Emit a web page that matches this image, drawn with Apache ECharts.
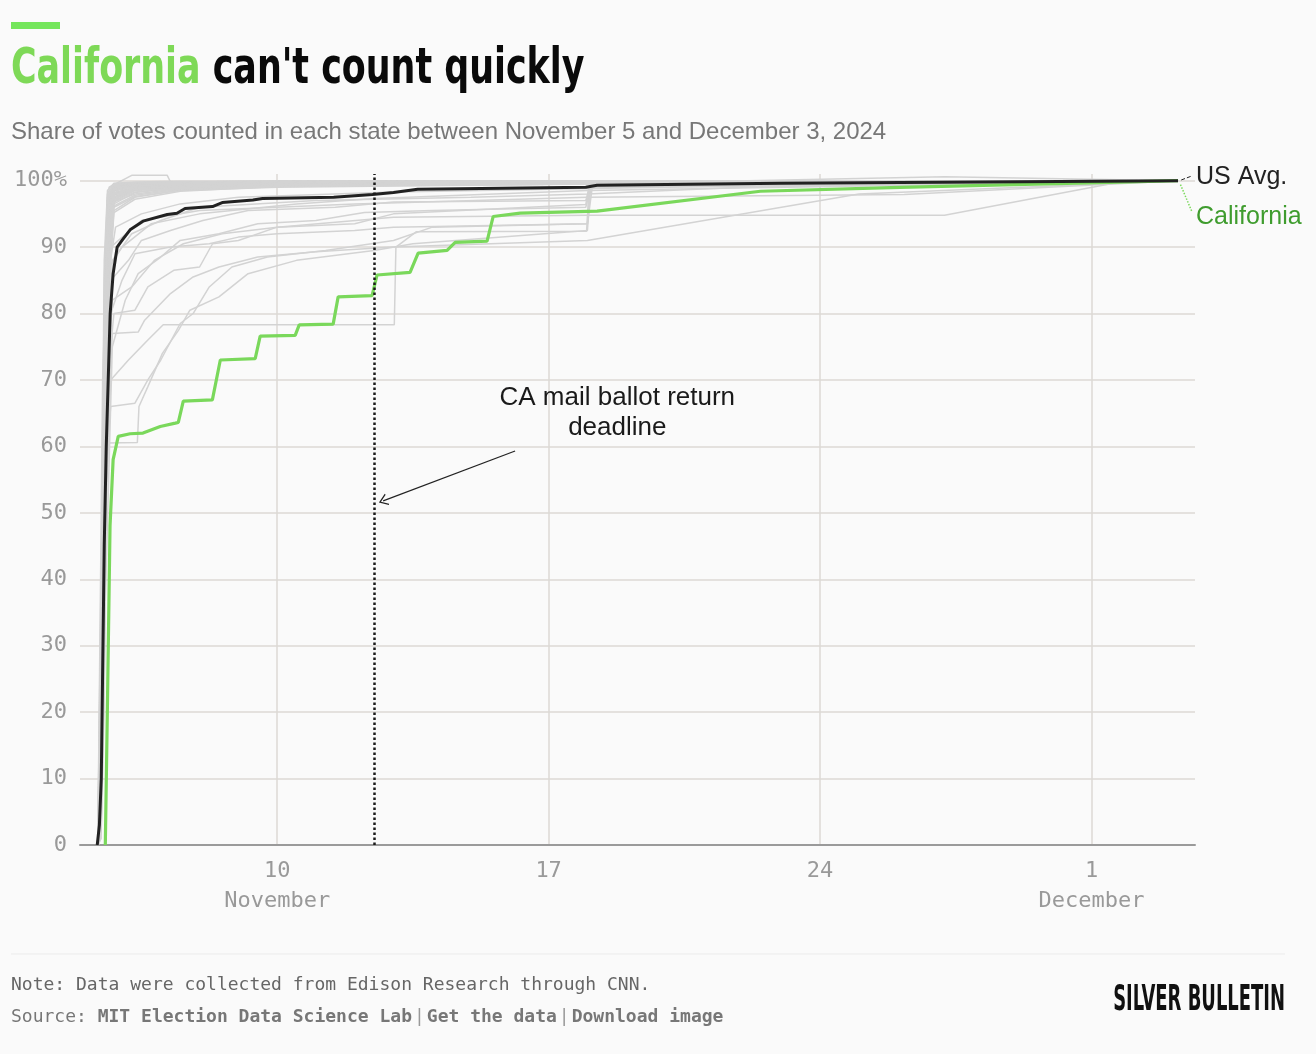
<!DOCTYPE html>
<html>
<head>
<meta charset="utf-8">
<title>California can't count quickly</title>
<script src="https://cdn.jsdelivr.net/npm/echarts@6.0.0/dist/echarts.min.js"></script>
<style>
  html, body { margin: 0; padding: 0; background: #fafafa; }
  #chart { width: 1316px; height: 1054px; }
</style>
</head>
<body>
<div id="chart"></div>
<script>
var YEAR = '2024-';

// axis ticks
var xTicks = ['11-10 00:00', '11-17 00:00', '11-24 00:00', '12-01 00:00'];
var xTickDays = ['10', '17', '24', '1'];
var xTickMonths = ['November', '', '', 'December'];
var yTicks = [0, 10, 20, 30, 40, 50, 60, 70, 80, 90, 100];

var deadline = '11-12 12:00';

// US average share counted
var usAvg = [
  ['11-05 08:40', 0], ['11-05 10:00', 3], ['11-05 11:10', 10], ['11-05 13:00', 45],
  ['11-05 14:15', 60], ['11-05 16:40', 80], ['11-05 18:30', 86], ['11-05 21:00', 90],
  ['11-06 00:00', 91], ['11-06 05:00', 92.6], ['11-06 13:00', 93.9], ['11-07 04:00', 94.9],
  ['11-07 10:00', 95.1], ['11-07 15:00', 95.8], ['11-08 08:00', 96.1], ['11-08 14:00', 96.7],
  ['11-09 09:00', 97.1], ['11-09 15:00', 97.3], ['11-11 11:00', 97.5], ['11-12 11:00', 97.9],
  ['11-13 00:00', 98.2], ['11-13 15:00', 98.7], ['11-17 23:00', 99.0], ['11-18 06:00', 99.3],
  ['11-23 00:00', 99.6], ['12-03 05:30', 100]
];

// California share counted
var california = [
  ['11-05 13:40', 0], ['11-05 14:55', 20], ['11-05 16:35', 48], ['11-05 18:30', 58],
  ['11-05 21:40', 61.5], ['11-06 05:00', 61.9], ['11-06 13:00', 62.0], ['11-06 23:40', 63.0],
  ['11-07 09:00', 63.5], ['11-07 10:50', 63.6], ['11-07 13:55', 66.8], ['11-08 07:55', 67.0],
  ['11-08 12:50', 73.0], ['11-09 10:25', 73.2], ['11-09 13:30', 76.6], ['11-10 11:10', 76.7],
  ['11-10 13:40', 78.3], ['11-11 10:40', 78.4], ['11-11 13:45', 82.5], ['11-12 10:45', 82.7],
  ['11-12 13:50', 85.8], ['11-13 10:15', 86.2], ['11-13 15:15', 89.1], ['11-14 09:10', 89.5],
  ['11-14 14:10', 90.7], ['11-15 09:55', 90.9], ['11-15 13:40', 94.6], ['11-16 06:25', 95.1],
  ['11-18 06:00', 95.4], ['11-22 11:00', 98.4], ['11-26 01:30', 99.0], ['12-01 23:00', 99.8],
  ['12-03 05:30', 100]
];

// states that counted fast: shared timestamps, one value list per state
var quickTimes = ['11-05 09:00', '11-05 11:00', '11-05 13:00', '11-05 15:00', '11-05 19:00',
  '11-06 08:00', '11-07 12:00', '11-10 00:00', '11-18 00:00', '12-03 05:30'];
var quickStates = [
  [0, 10, 60, 93, 98.5, 99.3, 99.6, 99.8, 99.9, 100],
  [0, 5, 45, 90, 97.8, 98.8, 99.3, 99.6, 99.8, 100],
  [0, 20, 75, 96, 99, 99.5, 99.7, 99.8, 99.9, 100],
  [0, 2, 30, 85, 96.5, 98.2, 98.9, 99.3, 99.6, 100],
  [0, 12, 68, 95, 98.8, 99.4, 99.6, 99.7, 99.9, 100],
  [0, 8, 52, 91, 98, 99, 99.4, 99.7, 99.8, 100],
  [0, 25, 80, 97, 99.3, 99.6, 99.8, 99.9, 100, 100],
  [0, 3, 38, 88, 97, 98.5, 99.1, 99.5, 99.7, 100],
  [0, 15, 70, 95.5, 98.6, 99.2, 99.5, 99.7, 99.8, 100],
  [0, 6, 48, 89, 96.8, 98, 98.8, 99.2, 99.6, 100],
  [0, 18, 72, 96.5, 99.1, 99.6, 99.8, 99.9, 99.9, 100],
  [0, 1, 25, 82, 95.5, 97.5, 98.6, 99.2, 99.5, 100],
  [0, 30, 85, 98, 99.5, 99.7, 99.8, 99.9, 100, 100],
  [0, 9, 55, 92, 98.2, 99, 99.3, 99.5, 99.8, 100],
  [0, 4, 40, 87, 97.2, 98.6, 99.2, 99.5, 99.7, 100],
  [0, 14, 66, 94, 98.4, 99.2, 99.5, 99.7, 99.9, 100],
  [0, 7, 50, 90, 97.6, 98.7, 99.2, 99.6, 99.8, 100],
  [0, 22, 78, 97, 99.2, 99.6, 99.7, 99.8, 99.9, 100],
  [0, 2, 33, 86, 96.2, 97.8, 98.7, 99.3, 99.6, 100],
  [0, 11, 62, 93.5, 98.6, 99.3, 99.6, 99.8, 99.9, 100],
  [0, 16, 73, 95, 98.9, 99.5, 99.7, 99.8, 99.9, 100],
  [0, 5, 42, 89, 97.4, 98.6, 99.1, 99.4, 99.7, 100],
  [0, 28, 82, 97.5, 99.4, 99.7, 99.8, 99.9, 100, 100],
  [0, 3, 36, 84, 96, 97.6, 98.5, 99, 99.5, 100],
  [0, 13, 64, 94.5, 98.7, 99.4, 99.6, 99.8, 99.9, 100],
  [0, 10, 58, 92.5, 98.1, 99, 99.4, 99.6, 99.8, 100],
  [0, 20, 76, 96, 99, 99.5, 99.7, 99.8, 99.9, 100],
  [0, 1, 22, 80, 95.2, 97.2, 98.4, 99.1, 99.5, 100],
  [0, 8, 54, 91.5, 97.9, 98.9, 99.3, 99.6, 99.8, 100],
  [0, 35, 88, 98.5, 99.6, 99.8, 99.9, 99.9, 100, 100],
  [0, 6, 46, 90, 97.5, 98.7, 99.2, 99.5, 99.7, 100],
  [0, 17, 71, 95.8, 98.8, 99.4, 99.6, 99.8, 99.9, 100],
  [0, 4, 39, 87.5, 96.9, 98.3, 99, 99.4, 99.7, 100],
  [0, 12, 65, 93.8, 98.5, 99.2, 99.5, 99.7, 99.9, 100]
];

// states that took longer
var slowStates = [
  [['11-05 09:30', 0], ['11-05 12:00', 40], ['11-05 15:00', 60.5], ['11-06 09:30', 60.6], ['11-06 10:30', 66],
   ['11-06 16:00', 69], ['11-07 01:00', 74], ['11-07 11:00', 77.5], ['11-07 18:00', 80.5], ['11-08 12:00', 82.5],
   ['11-09 06:00', 86], ['11-10 12:00', 88], ['11-12 12:00', 89.5], ['11-13 12:00', 90.5], ['11-18 00:00', 92.5],
   ['11-18 02:00', 99], ['12-03 05:30', 100]],
  [['11-05 09:00', 0], ['11-05 13:00', 55], ['11-05 17:00', 66], ['11-06 08:00', 66.5], ['11-06 16:00', 70],
   ['11-07 00:00', 73], ['11-07 12:00', 78.5], ['11-07 20:00', 80], ['11-08 06:00', 84], ['11-08 20:00', 87],
   ['11-09 18:00', 88.5], ['11-11 06:00', 89.5], ['11-13 00:00', 91], ['11-14 00:00', 93], ['11-18 00:00', 93.5],
   ['11-18 02:00', 99.3], ['12-03 05:30', 100]],
  [['11-05 09:30', 0], ['11-05 14:00', 50], ['11-05 17:00', 70], ['11-06 04:00', 73], ['11-06 16:00', 76],
   ['11-07 01:30', 78.3], ['11-13 00:30', 78.3], ['11-13 01:30', 90], ['11-13 14:00', 92.3], ['11-17 23:30', 92.4],
   ['11-18 01:00', 99], ['12-03 05:30', 100]],
  [['11-05 09:00', 0], ['11-05 13:00', 52], ['11-05 18:00', 77], ['11-06 10:00', 77.2], ['11-06 14:00', 79],
   ['11-07 06:00', 83], ['11-07 20:00', 85.5], ['11-08 12:00', 87], ['11-09 12:00', 88.5], ['11-11 00:00', 89.3],
   ['11-13 00:00', 90], ['11-18 00:00', 91], ['11-25 00:00', 98], ['12-03 05:30', 100]],
  [['11-05 09:00', 0], ['11-05 15:00', 70], ['11-05 19:00', 80], ['11-06 08:00', 80.5], ['11-06 16:00', 84],
   ['11-07 08:00', 86.5], ['11-08 00:00', 87], ['11-08 08:00', 90.5], ['11-09 00:00', 91], ['11-10 00:00', 93],
   ['11-12 00:00', 93.5], ['11-13 00:00', 95], ['11-17 23:00', 96.4], ['11-18 01:00', 99.2], ['12-03 05:30', 100]],
  [['11-05 09:00', 0], ['11-05 14:00', 65], ['11-05 18:00', 82], ['11-06 06:00', 84], ['11-06 20:00', 88],
   ['11-07 14:00', 90.5], ['11-08 14:00', 92], ['11-10 00:00', 93], ['11-13 00:00', 94.5], ['11-18 00:00', 94.8],
   ['11-27 05:00', 94.8], ['12-01 20:00', 99.9], ['12-03 05:30', 100]],
  [['11-05 09:00', 0], ['11-05 12:00', 60], ['11-05 15:00', 95], ['11-06 00:00', 98.5], ['11-10 00:00', 99.2],
   ['11-18 00:00', 99.5], ['11-27 05:00', 100.6], ['12-03 05:30', 100]],
  [['11-05 09:00', 0], ['11-05 13:00', 50], ['11-05 17:00', 90], ['11-06 12:00', 94], ['11-08 00:00', 95.5],
   ['11-12 00:00', 96.5], ['11-18 00:00', 97.5], ['11-26 04:00', 97.9], ['12-03 05:30', 100]],
  [['11-05 09:00', 0], ['11-05 12:00', 70], ['11-05 16:00', 99], ['11-06 06:00', 100.8], ['11-07 04:00', 100.8],
   ['11-07 06:00', 99.8], ['12-03 05:30', 100]],
  [['11-05 09:00', 0], ['11-05 13:00', 60], ['11-05 17:00', 85], ['11-06 04:00', 88], ['11-06 12:00', 91],
   ['11-07 06:00', 92.5], ['11-08 02:00', 94], ['11-09 06:00', 95.5], ['11-11 12:00', 96], ['11-13 00:00', 96.8],
   ['11-17 23:00', 97], ['11-18 02:00', 99.3], ['12-03 05:30', 100]],
  [['11-05 09:00', 0], ['11-05 12:00', 50], ['11-05 16:00', 87], ['11-06 00:00', 90], ['11-06 18:00', 93.5],
   ['11-08 00:00', 95], ['11-10 12:00', 96.5], ['11-12 12:00', 97.3], ['11-18 00:00', 98.5], ['12-03 05:30', 100]],
  [['11-05 09:00', 0], ['11-05 14:00', 40], ['11-05 18:00', 75], ['11-06 02:00', 82], ['11-06 10:00', 86],
   ['11-07 00:00', 88.5], ['11-07 12:00', 91], ['11-08 12:00', 92], ['11-09 12:00', 93.5], ['11-11 00:00', 94],
   ['11-12 06:00', 95.2], ['11-14 00:00', 95.5], ['11-17 23:00', 96], ['11-18 02:00', 99], ['12-03 05:30', 100]],
  [['11-05 09:00', 0], ['11-05 12:00', 55], ['11-05 15:00', 85], ['11-05 20:00', 93], ['11-06 12:00', 95],
   ['11-07 12:00', 96.5], ['11-09 00:00', 97.5], ['11-13 00:00', 98.3], ['11-20 00:00', 99], ['12-03 05:30', 100]],
  [['11-05 09:00', 0], ['11-05 13:00', 45], ['11-05 17:00', 80], ['11-06 00:00', 85], ['11-06 08:00', 89],
   ['11-07 06:00', 90], ['11-08 06:00', 90.5], ['11-09 00:00', 91.5], ['11-10 00:00', 92], ['11-12 00:00', 92.5],
   ['11-13 00:00', 93], ['11-18 00:00', 93.5], ['11-18 03:00', 99], ['12-03 05:30', 100]],
  [['11-05 09:00', 0], ['11-05 14:00', 65], ['11-05 18:00', 88], ['11-06 06:00', 92], ['11-07 00:00', 94],
   ['11-08 00:00', 96], ['11-11 00:00', 97], ['11-15 00:00', 97.5], ['11-18 00:00', 98], ['11-22 00:00', 99],
   ['12-03 05:30', 100]]
];

var MONO = '"DejaVu Sans Mono", "Liberation Mono", monospace';
var SANS = '"Liberation Sans", Arial, sans-serif';
var COND = '"Liberation Sans Narrow", "DejaVu Sans Condensed", sans-serif';
var GREEN = '#7ad85b';
var GRID = '#dcd9d5';

function ts(s) { return +echarts.time.parse(YEAR + s); }
function toPoint(p) { return [ts(p[0]), p[1]]; }

function grayLine(data) {
  return {
    type: 'line', data: data, showSymbol: false, silent: true, clip: false,
    lineStyle: { color: '#d3d3d3', width: 1.5 }, z: 2
  };
}

var xTickValues = xTicks.map(ts);

var series = [];
quickStates.forEach(function (vals) {
  series.push(grayLine(quickTimes.map(function (t, i) { return [ts(t), vals[i]]; })));
});
slowStates.forEach(function (pts) {
  series.push(grayLine(pts.map(toPoint)));
});

var lastCa = california[california.length - 1];
var lastUs = usAvg[usAvg.length - 1];

series.push({
  name: 'California', type: 'line', data: california.map(toPoint), showSymbol: false,
  lineStyle: { color: GREEN, width: 3.2 }, z: 3,
  markPoint: {
    symbol: 'circle', symbolSize: 0, silent: true,
    data: [{
      coord: [ts(lastCa[0]), lastCa[1]],
      label: { show: true, position: 'right', offset: [13, 36], formatter: 'California',
        color: '#3f9c2e', fontFamily: SANS, fontSize: 25 }
    }]
  },
  markLine: {
    silent: true, symbol: 'none', label: { show: false },
    data: [
      [
        { coord: [ts('12-03 07:00'), 99.4] },
        { coord: [ts('12-03 14:00'), 95.4] }
      ]
    ],
    lineStyle: { color: GREEN, type: 'dotted', width: 1.5 }
  }
});

series.push({
  name: 'US Avg.', type: 'line', data: usAvg.map(toPoint), showSymbol: false,
  lineStyle: { color: '#222', width: 3 }, z: 4,
  markPoint: {
    symbol: 'circle', symbolSize: 0, silent: true,
    data: [{
      coord: [ts(lastUs[0]), lastUs[1]],
      label: { show: true, position: 'right', offset: [13, -4], formatter: 'US Avg.',
        color: '#222', fontFamily: SANS, fontSize: 25 }
    }, {
      coord: [ts('11-18 18:30'), 65.1],
      label: { show: true, position: 'inside', formatter: 'CA mail ballot return\ndeadline',
        color: '#1a1a1a', fontFamily: SANS, fontSize: 26, lineHeight: 30, align: 'center' }
    }]
  },
  markLine: {
    silent: true, symbol: 'none', label: { show: false },
    data: [
      [
        { coord: [ts('11-16 03:15'), 59.3], symbol: 'none' },
        { coord: [ts('11-12 17:35'), 51.8], symbol: 'path://M0,10 L5,0 L10,10 L9,10.6 L5,2.6 L1,10.6 Z',
          symbolSize: [12, 9] }
      ],
      [
        { coord: [ts('12-03 07:30'), 100.1], lineStyle: { color: '#222', type: 'dashed', width: 1 } },
        { coord: [ts('12-03 14:00'), 100.7] }
      ]
    ],
    lineStyle: { color: '#222', width: 1.2, type: 'solid' }
  }
});

// deadline marker on its own so it keeps a bold dotted style
series.push({
  name: 'deadline', type: 'line', data: [], silent: true,
  markLine: {
    silent: true, symbol: 'none', label: { show: false },
    data: [{ xAxis: ts(deadline) }],
    lineStyle: { color: '#1a1a1a', type: [2.5, 2.5], width: 2.5 }
  }
});

var chart = echarts.init(document.getElementById('chart'));
chart.setOption({
  backgroundColor: '#fafafa',
  animation: false,
  grid: { left: 80, right: 121, top: 174, bottom: 209 },
  xAxis: {
    type: 'value',
    min: ts('11-04 22:00'),
    max: ts('12-03 16:00'),
    axisLine: { show: true, onZero: false, lineStyle: { color: '#9a9a9a', width: 2 } },
    axisTick: { show: false, customValues: xTickValues },
    splitLine: { show: true, lineStyle: { color: GRID, width: 1.5 } },
    axisLabel: {
      customValues: xTickValues,
      margin: 11,
      formatter: function (value) {
        var i = xTickValues.indexOf(value);
        if (i < 0) return '';
        return xTickMonths[i] ? '{d|' + xTickDays[i] + '}\n{m|' + xTickMonths[i] + '}' : '{d|' + xTickDays[i] + '}';
      },
      rich: {
        d: { fontFamily: MONO, fontSize: 22, color: '#999', lineHeight: 30 },
        m: { fontFamily: MONO, fontSize: 22, color: '#999', lineHeight: 30 }
      }
    }
  },
  yAxis: {
    type: 'value', min: 0, max: 101,
    axisLine: { show: false },
    axisTick: { show: false, customValues: yTicks },
    splitLine: { show: true, lineStyle: { color: GRID, width: 1.5 } },
    axisLabel: {
      customValues: yTicks, margin: 13,
      color: '#999', fontFamily: MONO, fontSize: 22,
      formatter: function (v) { return v === 100 ? '100%' : String(v); }
    }
  },
  graphic: [
    { type: 'rect', x: 11, y: 22, shape: { width: 49, height: 7 }, style: { fill: '#74e65b' } },
    {
      type: 'text', x: 11, y: 70, scaleX: 0.775,
      style: {
        text: '{g|California }{k|can\'t count quickly}', verticalAlign: 'middle',
        rich: {
          g: { fill: '#7ed957', fontFamily: COND, fontWeight: 'bold', fontSize: 50 },
          k: { fill: '#0a0a0a', fontFamily: COND, fontWeight: 'bold', fontSize: 50 }
        }
      }
    },
    {
      type: 'text', x: 11, y: 132,
      style: { text: 'Share of votes counted in each state between November 5 and December 3, 2024',
        fill: '#777', fontFamily: SANS, fontSize: 24, verticalAlign: 'middle' }
    },
    { type: 'line', shape: { x1: 11, y1: 954, x2: 1285, y2: 954 }, style: { stroke: '#ebebeb', lineWidth: 1 } },
    {
      type: 'text', x: 11, y: 985,
      style: { text: 'Note: Data were collected from Edison Research through CNN.',
        fill: '#666', fontFamily: MONO, fontSize: 18, verticalAlign: 'middle' }
    },
    {
      type: 'text', x: 11, y: 1017,
      style: {
        text: '{n|Source: }{b|MIT Election Data Science Lab}{s||}{b|Get the data}{s||}{b|Download image}',
        verticalAlign: 'middle',
        rich: {
          n: { fill: '#777', fontFamily: MONO, fontSize: 18 },
          b: { fill: '#777', fontFamily: MONO, fontSize: 18, fontWeight: 'bold' },
          s: { fill: '#999', fontFamily: MONO, fontSize: 18, padding: [0, 2] }
        }
      }
    },
    {
      type: 'text', x: 1285, y: 1001, scaleX: 0.57,
      style: { text: 'SILVER BULLETIN', fill: '#111', fontFamily: COND, fontWeight: 'bold', fontSize: 35,
        align: 'right', verticalAlign: 'middle' }
    }
  ],
  series: series
});
</script>
</body>
</html>
